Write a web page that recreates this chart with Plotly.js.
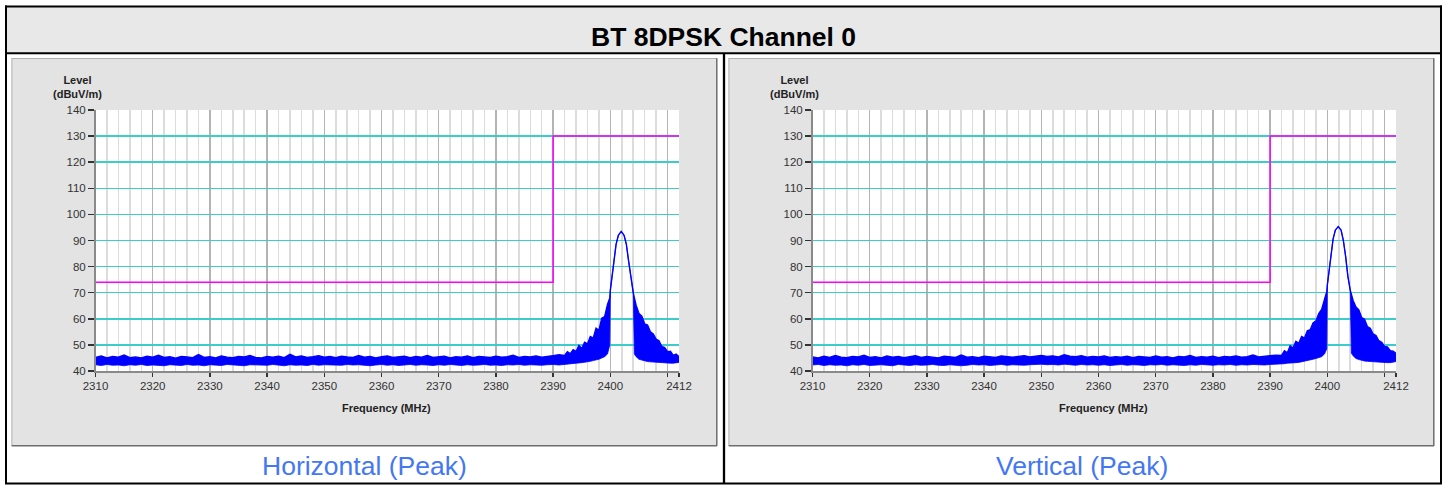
<!DOCTYPE html>
<html>
<head>
<meta charset="utf-8">
<script src="https://cdn.plot.ly/plotly-3.0.1.min.js"></script>
<style>
html,body{margin:0;padding:0;background:#fff;}
#chart{width:1450px;height:485px;}
</style>
</head>
<body>
<div id="chart"></div>
<script>
// ---------------- DATA ----------------
const chartTitle = "BT 8DPSK Channel 0";
const captions = ["Horizontal (Peak)", "Vertical (Peak)"];
const yTitle = "Level<br>(dBuV/m)";
const xTitle = "Frequency (MHz)";

const xTickVals = [2310, 2320, 2330, 2340, 2350, 2360, 2370, 2380, 2390, 2400, 2410, 2412];
const xTickText = ["2310", "2320", "2330", "2340", "2350", "2360", "2370", "2380", "2390", "2400", "", "2412"];
const yTickVals = [40, 50, 60, 70, 80, 90, 100, 110, 120, 130, 140];

// limit line (dBuV/m)
const limitFreq = [2310, 2390, 2390, 2412];
const limitLevel = [74, 74, 130, 130];

// noise floor sample frequencies (MHz)
const freqNoise = [2310,2311,2312,2313,2314,2315,2316,2317,2318,2319,
  2320,2321,2322,2323,2324,2325,2326,2327,2328,2329,
  2330,2331,2332,2333,2334,2335,2336,2337,2338,2339,
  2340,2341,2342,2343,2344,2345,2346,2347,2348,2349,
  2350,2351,2352,2353,2354,2355,2356,2357,2358,2359,
  2360,2361,2362,2363,2364,2365,2366,2367,2368,2369,
  2370,2371,2372,2373,2374,2375,2376,2377,2378,2379,
  2380,2381,2382,2383,2384,2385,2386,2387,2388,2389,
  2390,2391];

// Horizontal: noise floor envelope
const upNoiseH = [45.2,45.8,45.0,45.6,45.3,46.1,45.1,45.4,45.0,45.7,
  45.3,46.0,45.2,45.5,44.9,45.6,45.4,45.1,46.3,45.2,
  45.5,45.0,45.8,45.3,45.1,45.6,45.4,45.9,45.2,45.0,
  45.6,45.3,45.7,45.1,46.4,45.4,45.8,45.2,45.5,45.9,
  45.3,45.6,45.1,45.7,45.4,45.2,45.9,45.3,45.6,45.0,
  45.5,45.8,45.2,45.4,45.7,45.1,45.6,45.3,45.9,45.2,
  45.4,45.7,45.0,45.5,45.3,45.8,45.1,45.6,45.4,45.2,
  45.7,45.3,45.5,46.0,45.2,45.6,45.4,45.8,45.3,45.7,
  45.9,46.2];
const lowNoiseH = [42.4,42.1,42.5,42.2,42.3,42.0,42.4,42.2,42.5,42.1,
  42.3,42.2,42.0,42.4,42.3,42.1,42.5,42.2,42.3,42.0,
  42.4,42.2,42.1,42.5,42.3,42.2,42.0,42.4,42.3,42.1,
  42.2,42.5,42.3,42.0,42.4,42.2,42.3,42.1,42.5,42.2,
  42.4,42.3,42.1,42.2,42.5,42.3,42.4,42.2,42.0,42.3,
  42.5,42.2,42.4,42.1,42.3,42.5,42.2,42.4,42.3,42.1,
  42.4,42.2,42.5,42.3,42.1,42.4,42.2,42.3,42.5,42.2,
  42.3,42.1,42.4,42.3,42.5,42.2,42.4,42.3,42.2,42.4,
  42.5,42.3];

// Vertical: noise floor envelope
const upNoiseV = [45.4,45.0,45.7,45.2,45.9,45.3,45.1,45.6,45.4,46.0,
  45.2,45.5,45.0,45.8,45.3,45.6,45.1,45.4,45.9,45.2,
  45.6,45.3,45.0,45.7,45.4,45.2,46.1,45.3,45.5,45.1,
  45.7,45.4,45.2,45.8,45.5,45.3,45.6,45.9,45.4,45.7,
  46.0,45.6,45.8,45.4,46.2,45.7,45.5,45.9,45.3,45.6,
  45.4,45.8,45.2,45.5,45.3,45.7,45.1,45.6,45.4,45.2,
  45.8,45.3,45.5,45.0,45.6,45.4,45.9,45.2,45.5,45.3,
  45.7,45.1,45.6,45.4,45.8,45.3,45.5,46.1,45.4,45.7,
  45.9,46.1];
const lowNoiseV = [42.3,42.5,42.1,42.4,42.2,42.3,42.0,42.4,42.2,42.5,
  42.1,42.3,42.4,42.2,42.0,42.5,42.3,42.1,42.4,42.2,
  42.3,42.5,42.2,42.1,42.4,42.3,42.0,42.2,42.5,42.3,
  42.4,42.1,42.3,42.5,42.2,42.4,42.3,42.2,42.4,42.5,
  42.6,42.4,42.5,42.3,42.6,42.4,42.2,42.5,42.3,42.4,
  42.2,42.4,42.1,42.3,42.5,42.2,42.4,42.3,42.1,42.4,
  42.3,42.5,42.2,42.4,42.3,42.1,42.4,42.2,42.5,42.3,
  42.2,42.4,42.3,42.5,42.2,42.4,42.3,42.5,42.4,42.3,
  42.5,42.6];

// signal region sample frequencies (MHz)
const freqPeak = [2392,2392.5,2393,2393.5,2394,2394.5,2395,2395.5,2396,2396.5,
  2397,2397.5,2398,2398.5,2399,2399.5,2399.9,
  2400.0,2400.3,2400.6,2401.0,2401.4,2401.9,2402.4,2402.8,2403.2,2403.6,2404.0,
  2404.2,2404.5,2405,2405.5,2406,2406.5,2407,2407.5,2408,2408.5,
  2409,2409.5,2410,2410.5,2411,2411.5,2412];

const upPeakH = [46.0,47.4,46.6,48.2,47.5,49.8,48.6,51.0,50.4,53.2,
  52.6,56.4,55.6,60.2,60.8,65.5,68.0,
  71.0,76.5,82.0,88.5,92.0,93.5,92.0,88.5,82.0,75.0,70.0,
  68.0,65.2,62.0,61.0,58.0,57.6,55.0,54.2,52.2,51.6,
  49.4,49.0,47.4,47.6,46.0,46.5,45.5];
const lowPeakH = [42.6,42.7,42.8,42.9,43.0,43.1,43.2,43.3,43.5,43.7,
  44.0,44.2,44.5,45.0,45.5,46.5,50.0,
  71.0,76.5,82.0,88.5,92.0,93.5,92.0,88.5,82.0,75.0,70.0,
  46.5,45.5,44.5,44.2,43.8,43.6,43.5,43.4,43.3,43.2,
  43.2,43.1,43.0,43.0,43.0,43.1,43.3];

const upPeakV = [46.0,47.8,47.0,49.6,48.8,51.4,50.6,53.2,52.6,55.4,
  55.8,58.4,59.2,62.0,63.6,67.0,70.5,
  73.0,78.0,84.0,90.5,94.0,95.3,94.0,90.0,83.8,76.1,71.0,
  69.5,67.0,64.5,63.4,60.5,59.8,57.0,56.4,54.2,53.6,
  51.6,51.0,49.4,49.2,47.8,47.6,46.8];
const lowPeakV = [42.6,42.8,43.0,43.0,43.0,43.2,43.3,43.5,43.6,43.9,
  44.2,44.5,44.8,45.2,45.5,46.5,48.5,
  73.0,78.0,84.0,90.5,94.0,95.3,94.0,90.0,83.8,76.1,71.0,
  46.8,45.8,44.8,44.4,44.0,43.8,43.7,43.6,43.5,43.4,
  43.3,43.3,43.2,43.2,43.2,43.3,43.6];

// ---------------- FIGURE ----------------
const W = 1450, H = 485;
const px = x => x / W;
const py = y => 1 - y / H;
const FONT = "Liberation Sans, Arial, Helvetica, sans-serif";
const BLUE = "#0000ff";

const freqAll = freqNoise.concat(freqPeak);
const series = [
  {low: lowNoiseH.concat(lowPeakH), up: upNoiseH.concat(upPeakH), xa: "x", ya: "y"},
  {low: lowNoiseV.concat(lowPeakV), up: upNoiseV.concat(upPeakV), xa: "x2", ya: "y2"}
];

const traces = [];
series.forEach(s => {
  traces.push({type: "scatter", mode: "lines", x: freqAll, y: s.low, xaxis: s.xa, yaxis: s.ya,
    line: {color: BLUE, width: 0.8}, hoverinfo: "skip", showlegend: false});
  traces.push({type: "scatter", mode: "lines", x: freqAll, y: s.up, xaxis: s.xa, yaxis: s.ya,
    fill: "tonexty", fillcolor: BLUE, line: {color: BLUE, width: 1.4}, hoverinfo: "skip", showlegend: false});
  traces.push({type: "scatter", mode: "lines", x: limitFreq, y: limitLevel, xaxis: s.xa, yaxis: s.ya,
    line: {color: "#ff00ff", width: 1.5}, hoverinfo: "skip", showlegend: false});
});

function xAxis(domain, anchor) {
  return {
    domain: domain, anchor: anchor, range: [2310, 2412], fixedrange: true,
    tickmode: "array", tickvals: xTickVals, ticktext: xTickText,
    ticks: "outside", ticklen: 4, tickwidth: 1.5, tickcolor: "#333",
    tickfont: {family: FONT, size: 11.5, color: "#333"},
    showline: true, linecolor: "#8a8a8a", linewidth: 1.5,
    showgrid: true, gridcolor: "#b4b4b4", gridwidth: 1.5, zeroline: false,
    minor: {tickmode: "linear", tick0: 2310, dtick: 2, showgrid: true, gridcolor: "#dcdcdc", gridwidth: 1.5, ticks: ""}
  };
}
function yAxis(domain, anchor) {
  return {
    domain: domain, anchor: anchor, range: [40, 140], fixedrange: true,
    tickmode: "array", tickvals: yTickVals,
    ticks: "outside", ticklen: 6, tickwidth: 1.5, tickcolor: "#333",
    tickfont: {family: FONT, size: 11.5, color: "#333"},
    showline: true, linecolor: "#8a8a8a", linewidth: 1.5,
    showgrid: true, gridcolor: "#3ccccc", gridwidth: 1.5, zeroline: false
  };
}

const yDom = [py(371), py(110)];
const panelOffset = 717;

const shapes = [];
function rect(x0, y0, x1, y1, fill, layer) {
  shapes.push({type: "rect", xref: "paper", yref: "paper", x0: px(x0), x1: px(x1), y0: py(y1), y1: py(y0),
    fillcolor: fill, line: {width: 0}, layer: layer || "below"});
}
function line(x0, y0, x1, y1, color, width, layer) {
  shapes.push({type: "line", xref: "paper", yref: "paper", x0: px(x0), x1: px(x1), y0: py(y0), y1: py(y1),
    line: {color: color, width: width}, layer: layer || "above"});
}
// title band
rect(6, 6, 1441, 53, "#e8e8e8");
// chart panels
[0, panelOffset].forEach(o => {
  rect(11.7 + o, 58.3, 717 + o, 446, "#e3e3e3");
  line(11.7 + o, 58.5, 717 + o, 58.5, "#b0b0b0", 1, "below");
  line(11.9 + o, 58.3, 11.9 + o, 446, "#b0b0b0", 1, "below");
  line(716.8 + o, 58.3, 716.8 + o, 446, "#6e6e6e", 1.5, "below");
  line(11.7 + o, 445.8, 717 + o, 445.8, "#6e6e6e", 1.5, "below");
});
// white plot areas
["x", "x2"].forEach((xa, i) => {
  shapes.push({type: "rect", xref: xa + " domain", yref: (i ? "y2" : "y") + " domain",
    x0: 0, x1: 1, y0: 0, y1: 1, fillcolor: "#ffffff", line: {width: 0}, layer: "below"});
});
// outer frame / dividers
line(5, 6.5, 1442, 6.5, "#000", 2);
line(6, 5.5, 6, 484, "#000", 2);
line(1441, 5.5, 1441, 484, "#000", 2);
line(5, 483.5, 1442, 483.5, "#000", 2);
line(6, 53.3, 1441, 53.3, "#000", 2);
line(724, 53.3, 724, 484, "#000", 2.3);

const annotations = [
  {text: "<b>" + chartTitle + "</b>", xref: "paper", yref: "paper", x: px(723.5), y: py(37.5),
    xanchor: "center", yanchor: "middle", showarrow: false, font: {family: FONT, size: 26.5, color: "#000"}}
];
[0, panelOffset].forEach((o, i) => {
  annotations.push({text: "<b>" + yTitle + "</b>", xref: "paper", yref: "paper", x: px(77 + o), y: py(87),
    xanchor: "center", yanchor: "middle", align: "center", showarrow: false,
    font: {family: FONT, size: 11, color: "#222"}});
  annotations.push({text: "<b>" + xTitle + "</b>", xref: "paper", yref: "paper", x: px(386 + o), y: py(408),
    xanchor: "center", yanchor: "middle", showarrow: false, font: {family: FONT, size: 11, color: "#222"}});
  annotations.push({text: captions[i], xref: "paper", yref: "paper", x: px(364.5 + o), y: py(465.5),
    xanchor: "center", yanchor: "middle", showarrow: false, font: {family: FONT, size: 26.5, color: "#4477f4"}});
});

const layout = {
  width: W, height: H, margin: {l: 0, r: 0, t: 0, b: 0, pad: 0},
  paper_bgcolor: "#ffffff", plot_bgcolor: "#ffffff", showlegend: false,
  font: {family: FONT},
  xaxis: xAxis([px(95.5), px(679)], "y"),
  yaxis: yAxis(yDom, "x"),
  xaxis2: xAxis([px(95.5 + panelOffset), px(679 + panelOffset)], "y2"),
  yaxis2: yAxis(yDom, "x2"),
  shapes: shapes,
  annotations: annotations
};

Plotly.newPlot("chart", traces, layout, {displayModeBar: false, staticPlot: true});
</script>
</body>
</html>
